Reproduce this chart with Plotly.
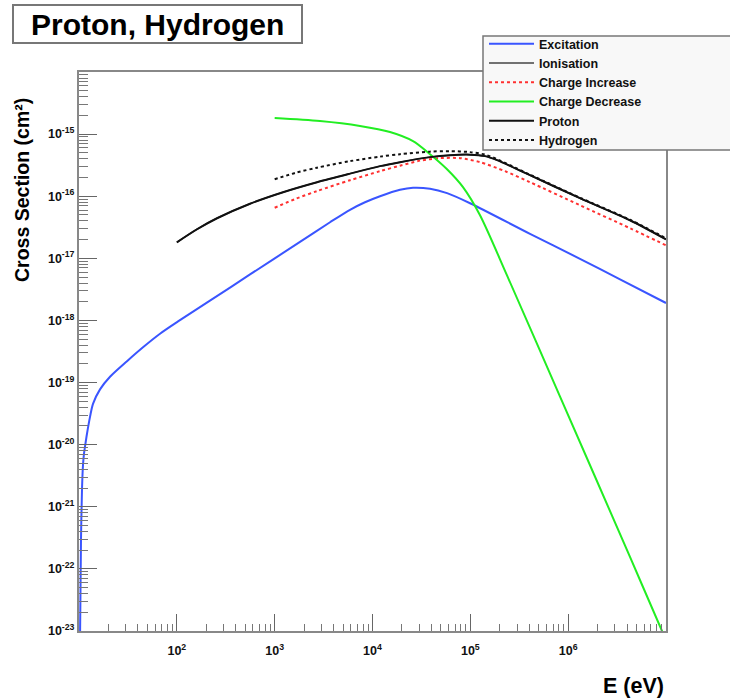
import plotly.graph_objects as go

# ---------------- data ----------------
# Energies in eV, cross sections in cm^2
exc_E = [10.25, 10.48, 10.73, 10.99, 11.25, 11.52, 12.07, 12.96, 13.9, 16.4, 20.75, 30.95, 45.1,
         67.3, 102.8, 218, 560, 1815, 3680, 5890, 8380, 11940, 19100, 25940, 38730, 57810,
         99300, 407400, 1.321e6, 3.39e6, 1e7]
exc_sigma = [8e-24, 2.94e-22, 1.88e-21, 4.75e-21, 7.16e-21, 9.29e-21, 1.50e-20, 2.80e-20, 4.54e-20,
             7.76e-20, 1.24e-19, 2.21e-19, 3.70e-19, 6.12e-19, 9.64e-19, 2.08e-18, 5.5e-18,
             1.84e-17, 3.81e-17, 6.05e-17, 8.0e-17, 1.0e-16, 1.27e-16, 1.37e-16, 1.32e-16,
             1.12e-16, 7.71e-17, 2.48e-17, 9.82e-18, 4.58e-18, 1.91e-18]

proton_E = [100, 160.8, 257.4, 559.7, 1217, 2709, 5891, 11940, 19100, 38710, 61980, 99260,
            141300, 187400, 407400, 1.321e6, 4.287e6, 1e7]
proton_sigma = [1.81e-17, 2.94e-17, 4.42e-17, 7.57e-17, 1.16e-16, 1.68e-16, 2.31e-16, 3.05e-16,
                3.53e-16, 4.26e-16, 4.58e-16, 4.67e-16, 4.42e-16, 3.81e-16, 2.18e-16, 9.29e-17,
                4.10e-17, 2.02e-17]

ion_E = proton_E
ion_sigma = proton_sigma

hyd_E = [1000, 1652, 2709, 5891, 11940, 19100, 38710, 61980, 99260, 141300, 187400, 407400,
         1.321e6, 4.287e6, 1e7]
hyd_sigma = [1.88e-16, 2.39e-16, 2.88e-16, 3.67e-16, 4.34e-16, 4.75e-16, 5.22e-16, 5.32e-16,
             5.13e-16, 4.67e-16, 3.95e-16, 2.22e-16, 9.46e-17, 4.18e-17, 2.10e-17]

cinc_E = [1000, 1652, 2709, 5891, 11940, 19100, 30590, 48980, 78430, 125600, 226200, 407400,
          1.321e6, 4.287e6, 1e7]
cinc_sigma = [6.53e-17, 9.12e-17, 1.21e-16, 1.81e-16, 2.53e-16, 3.10e-16, 3.74e-16, 4.10e-16,
              4.10e-16, 3.53e-16, 2.53e-16, 1.68e-16, 7.16e-17, 3.05e-17, 1.62e-17]

cdec_E = [1000, 2904, 7450, 15100, 25940, 38730, 57810, 84140, 125600, 237100, 826000,
          4.285e6, 9.10e6, 1e7]
cdec_sigma = [1.81e-15, 1.62e-15, 1.35e-15, 1.08e-15, 7.7e-16, 4.75e-16, 2.72e-16, 1.40e-16,
              4.94e-17, 5.32e-18, 5.94e-20, 1.56e-22, 1e-23, 7.2e-24]

x_tickvals = [1e2, 1e3, 1e4, 1e5, 1e6]
x_ticktext = ["10<sup>2</sup>", "10<sup>3</sup>", "10<sup>4</sup>", "10<sup>5</sup>", "10<sup>6</sup>"]
y_exponents = [-23, -22, -21, -20, -19, -18, -17, -16, -15]
y_tickvals = [10.0 ** e for e in y_exponents]
y_ticktext = ["10<sup>%d</sup>" % e for e in y_exponents]

FONT = "Liberation Sans, Arial, sans-serif"

fig = go.Figure()

def add(name, x, y, color, dash="solid", width=2):
    fig.add_trace(go.Scatter(x=x, y=y, mode="lines", name=name,
                             line=dict(color=color, dash=dash, width=width,
                                       shape="spline", smoothing=0.8)))

add("Excitation", exc_E, exc_sigma, "#3a55ff")
add("Ionisation", ion_E, ion_sigma, "#444444", width=1.5)
add("Charge Increase", cinc_E, cinc_sigma, "#ff3030", dash="dot")
add("Charge Decrease", cdec_E, cdec_sigma, "#22ee22")
add("Proton", proton_E, proton_sigma, "#111111")
add("Hydrogen", hyd_E, hyd_sigma, "#111111", dash="dot")

W, H = 730, 699
L, R, T, B = 79, 64, 72, 68
pw, ph = W - L - R, H - T - B

def px(x):
    return (x - L) / pw

def py(y):
    return (H - B - y) / ph

fig.update_layout(
    width=W, height=H,
    margin=dict(l=L, r=R, t=T, b=B, autoexpand=False),
    plot_bgcolor="white", paper_bgcolor="white",
    font=dict(family=FONT, color="black"),
    showlegend=True,
    legend=dict(x=px(484), y=py(29), xanchor="left", yanchor="top",
                bgcolor="rgba(0,0,0,0)", borderwidth=0,
                font=dict(family=FONT, size=12.5, weight="bold", color="#111"),
                itemwidth=45, tracegroupgap=0),
)

fig.update_xaxes(
    type="log", range=[1, 7],
    tickmode="array", tickvals=x_tickvals, ticktext=x_ticktext,
    ticks="inside", ticklen=17, tickwidth=1, tickcolor="#666666",
    minor=dict(ticks="inside", ticklen=7, tickwidth=1, tickcolor="#777777", dtick="D1"),
    showline=True, linecolor="#888888", linewidth=2, mirror=True,
    showgrid=False, zeroline=False, ticklabelstandoff=7,
    tickfont=dict(family=FONT, size=12.5, weight="bold", color="#111"),
)
fig.update_yaxes(
    type="log", range=[-23, -14],
    tickmode="array", tickvals=y_tickvals, ticktext=y_ticktext,
    ticks="inside", ticklen=18, tickwidth=1, tickcolor="#666666",
    minor=dict(ticks="inside", ticklen=9, tickwidth=1, tickcolor="#777777", dtick="D1"),
    showline=True, linecolor="#888888", linewidth=2, mirror=True,
    showgrid=False, zeroline=False,
    tickfont=dict(family=FONT, size=12.5, weight="bold", color="#111"),
)

# legend frame (extends past the right edge like the reference)
fig.add_shape(type="rect", xref="paper", yref="paper",
              x0=px(483), x1=px(760), y0=py(150), y1=py(36),
              line=dict(color="#777777", width=1.5), fillcolor="#f8f8f8", layer="above")
# title box
fig.add_shape(type="rect", xref="paper", yref="paper",
              x0=px(13), x1=px(302), y0=py(43), y1=py(5),
              line=dict(color="#777777", width=2), fillcolor="white", layer="above")
fig.add_annotation(text="Proton, Hydrogen", xref="paper", yref="paper",
                   x=px(157), y=py(24), xanchor="center", yanchor="middle", showarrow=False,
                   font=dict(family=FONT, size=30, weight="bold", color="black"))
# axis titles
fig.add_annotation(text="Cross Section (cm²)", xref="paper", yref="paper",
                   x=px(22), y=py(190), xanchor="center", yanchor="middle", textangle=-90,
                   showarrow=False, font=dict(family=FONT, size=19.5, weight="bold", color="black"))
fig.add_annotation(text="E (eV)", xref="paper", yref="paper",
                   x=px(666), y=py(686), xanchor="right", yanchor="middle",
                   showarrow=False, font=dict(family=FONT, size=21.5, weight="bold", color="black"))

fig.write_html("out.html")
